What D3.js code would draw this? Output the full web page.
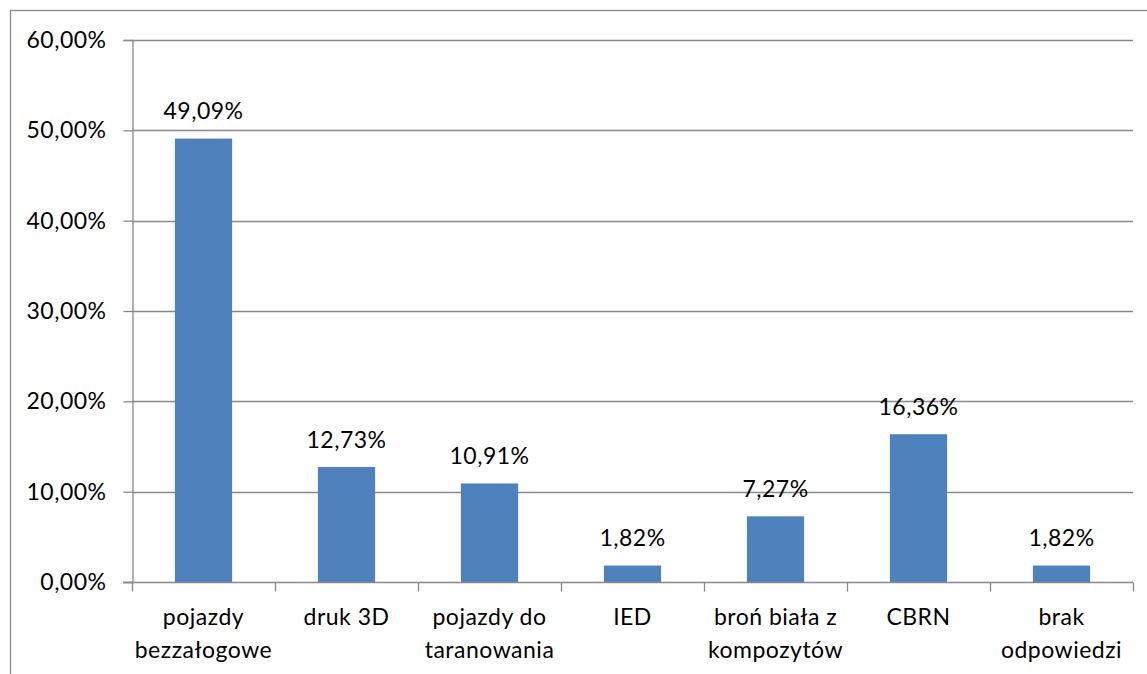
<!DOCTYPE html>
<html><head><meta charset="utf-8">
<script src="https://cdn.jsdelivr.net/npm/d3@7"></script>
<style>html,body{margin:0;padding:0;background:#fff;}svg{display:block;}</style>
</head><body>
<script>
const categories = [["pojazdy","bezzałogowe"],["druk 3D"],["pojazdy do","taranowania"],["IED"],["broń biała z","kompozytów"],["CBRN"],["brak","odpowiedzi"]];
const values = [49.09, 12.73, 10.91, 1.82, 7.27, 16.36, 1.82];
const yTicks = [0, 10, 20, 30, 40, 50, 60];

const W = 1147, H = 674;
const font = "Lato, 'Open Sans', sans-serif";
const fs = 23, ls = 0.5;
const fmt = v => v.toFixed(2).replace(".", ",") + "%";
const svg = d3.select("body").append("svg").attr("width", W).attr("height", H);

// outer chart border (cropped on right/bottom)
svg.append("rect").attr("x", 10.5).attr("y", 10.5).attr("width", W).attr("height", H)
  .attr("fill", "none").attr("stroke", "#898989").attr("stroke-width", 1.3);

const x = d3.scaleBand().domain(d3.range(categories.length)).range([132, 1133]).padding(0);
const y = d3.scaleLinear().domain([0, 60]).range([582, 40]);
const grid = "#898989";

// gridlines
svg.append("g").selectAll("line").data(yTicks.filter(t => t > 0)).join("line")
  .attr("x1", 132).attr("x2", 1133).attr("y1", d => Math.round(y(d)) + 0.5).attr("y2", d => Math.round(y(d)) + 0.5)
  .attr("stroke", grid).attr("stroke-width", 1.3);

// bars
const bw = x.bandwidth() * 0.4;
svg.append("g").selectAll("rect").data(values).join("rect")
  .attr("x", (d, i) => x(i) + (x.bandwidth() - bw) / 2)
  .attr("y", d => y(d)).attr("width", bw).attr("height", d => y(0) - y(d))
  .attr("fill", "#4F81BD");

// y axis
const yAxis = svg.append("g").attr("transform", "translate(132.5,0)")
  .call(d3.axisLeft(y).tickValues(yTicks).tickSize(9).tickPadding(17).tickFormat(fmt));
yAxis.select(".domain").attr("stroke", grid).attr("stroke-width", 1.3);
yAxis.selectAll(".tick line").attr("stroke", grid).attr("stroke-width", 1.3);
yAxis.selectAll(".tick text").attr("font-family", font).attr("font-size", fs)
  .attr("letter-spacing", ls).attr("fill", "#000");

// x axis
const xAxis = svg.append("g").attr("transform", "translate(0,582.5)");
xAxis.append("line").attr("x1", 123).attr("x2", 1133).attr("y1", 0).attr("y2", 0)
  .attr("stroke", grid).attr("stroke-width", 1.3);
xAxis.selectAll("line.t").data(d3.range(categories.length + 1)).join("line").attr("class", "t")
  .attr("x1", i => (i < categories.length ? x(i) : x.range()[1]) + 0.5)
  .attr("x2", i => (i < categories.length ? x(i) : x.range()[1]) + 0.5)
  .attr("y1", 0).attr("y2", 9).attr("stroke", grid).attr("stroke-width", 1.3);

// category labels
const cl = svg.append("g").selectAll("text").data(categories).join("text")
  .attr("text-anchor", "middle").attr("font-family", font).attr("font-size", fs)
  .attr("letter-spacing", ls).attr("fill", "#000");
cl.selectAll("tspan").data((d, i) => d.map(s => ({ s, i }))).join("tspan")
  .attr("x", d => x(d.i) + x.bandwidth() / 2)
  .attr("y", (d, j) => 625 + j * 33)
  .text(d => d.s);

// data labels
svg.append("g").selectAll("text").data(values).join("text")
  .attr("x", (d, i) => x(i) + x.bandwidth() / 2)
  .attr("y", d => y(d) - 19.5)
  .attr("text-anchor", "middle").attr("font-family", font).attr("font-size", fs)
  .attr("letter-spacing", ls).attr("fill", "#000")
  .text(fmt);
</script>
</body></html>
